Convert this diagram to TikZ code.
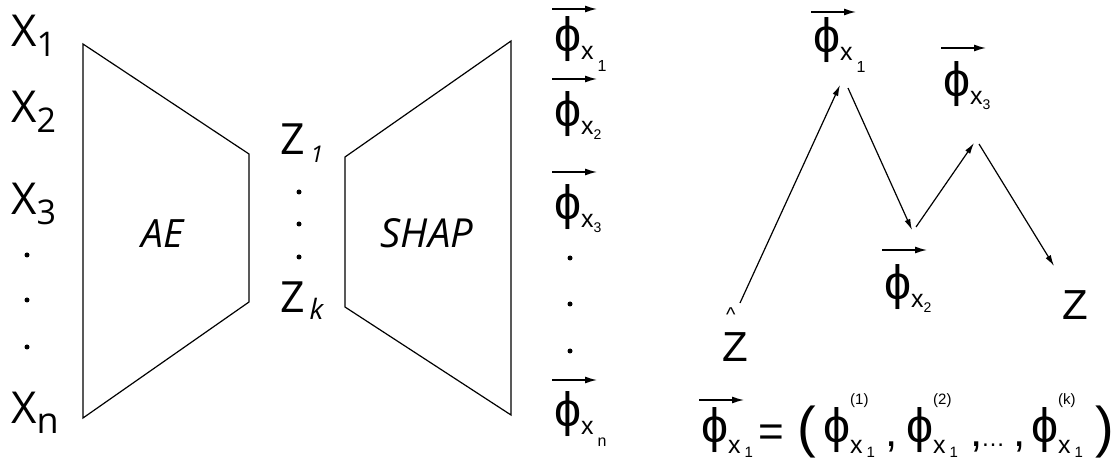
\documentclass[tikz,border=0pt]{standalone}
\usepackage{fontspec}
\usepackage{graphicx}
\setmainfont{Open Sans}
\newfontfamily\arialfont{Liberation Sans}
\usetikzlibrary{arrows.meta,positioning,calc}

\newcommand{\fsz}[1]{\fontsize{#1}{#1}\selectfont}
\newcommand{\xlab}[1]{X\raisebox{-10pt}{\fsz{34}#1}}
% phi glyph, 45pt tall, 7pt below the baseline
\newcommand{\phisym}{\raisebox{-7pt}{\resizebox*{!}{45pt}{\arialfont\fsz{48}\raisebox{\depth}{ϕ}}}}
% phi with x and a dropped index (1, n)
\newcommand{\phixlow}[1]{\phisym{\arialfont\raisebox{-5pt}{\fsz{25}x}\hspace{4pt}\raisebox{-17pt}{\fsz{16}#1}}}
% phi with x and a plain index (2, 3)
\newcommand{\phixsub}[1]{\phisym{\arialfont\raisebox{-5pt}{\fsz{25}x}\raisebox{-10pt}{\fsz{14}#1}}}
% one component, index on top
\newcommand{\phicomp}[1]{\phisym{\arialfont\rlap{\raisebox{42pt}{\fsz{15}(#1)}}\raisebox{-7pt}{\fsz{25}x}\hspace{4pt}\raisebox{-12pt}{\fsz{15}1}}}

\tikzset{
  frame/.style={line width=1.2pt, line join=miter},
  lbl/.style={inner sep=0pt, anchor=base west},
  vecarr/.style={line width=1.4pt, -{Latex[length=12pt,width=7pt]}},
  path/.style={line width=1.2pt, -{Latex[length=11pt,width=6pt]}},
  dot/.style={fill=black}
}

\begin{document}
\begin{tikzpicture}[x=1pt, y=-1pt]
  \useasboundingbox (0,0) rectangle (1117,462);

  % inputs
  \node[lbl, font=\fsz{44}] (x1) at (11,47) {\xlab{1}};
  \node[lbl, font=\fsz{44}] (x2) at (11,123) {\xlab{2}};
  \node[lbl, font=\fsz{44}] (x3) at (11,215) {\xlab{3}};
  \node[lbl, font=\fsz{44}] (xn) at (11,423) {X\raisebox{-10pt}{\fsz{36}n}};
  \foreach \y in {255,300,347} \fill[dot] (27,\y) circle (2.5);

  % encoder
  \draw[frame] (83,44) -- (249,154) -- (249,302) -- (83,418) -- cycle;
  \node[inner sep=0pt, anchor=base, font=\fsz{39}\itshape] (ae) at (163,248) {AE};

  % latent code
  \node[lbl, font=\fsz{43}] (z1) at (280,155) {Z\hspace{6pt}\raisebox{-8pt}{\fsz{23}\itshape 1}};
  \node[lbl, font=\fsz{43}] (zk) at (280,313) {Z\hspace{5pt}\raisebox{-7pt}{\fsz{28}\itshape k}};
  \foreach \y in {192,224,257} \fill[dot] (299,\y) circle (2.5);

  % explainer
  \draw[frame] (511,41) -- (345,157) -- (345,307) -- (511,415) -- cycle;
  \node[inner sep=0pt, anchor=base, font=\fsz{40}\itshape] (shap) at (427,248) {SHAP};

  % attributions
  \node[lbl] (c1) at (554,55) {\phixlow{1}};
  \node[lbl] (c2) at (554,130) {\phixsub{2}};
  \node[lbl] (c3) at (554,223) {\phixsub{3}};
  \node[lbl] (cn) at (554,430) {\phixlow{n}};
  \foreach \y in {258,304,351} \fill[dot] (570,\y) circle (2.5);

  % walk in latent space
  \node[lbl, font=\arialfont\fsz{42}] (zhat) at (722,362) {\makebox[0pt][l]{\hspace{4pt}\raisebox{40pt}{\fsz{20}\textasciicircum}}Z};
  \node[lbl] (p1) at (813,56) {\phixlow{1}};
  \node[lbl] (p2) at (884,303) {\phixsub{2}};
  \node[lbl] (p3) at (943,100) {\phixsub{3}};
  \node[lbl, font=\arialfont\fsz{42}] (z) at (1062,320) {Z};

  \draw[path] ([shift={(18,-59)}]zhat.base west) -- ([shift={(27,29)}]p1.base west);
  \draw[path] ([shift={(35,32)}]p1.base west) -- ([shift={(28,-73)}]p2.base west);
  \draw[path] ([shift={(32,-76)}]p2.base west) -- ([shift={(31,43)}]p3.base west);
  \draw[path] ([shift={(36,44)}]p3.base west) -- ([shift={(-8,-54)}]z.base west);

  % definition
  \node[lbl] (eq) at (701,446) {\makebox[57pt][l]{\phisym{\arialfont\raisebox{-7pt}{\fsz{25}x}\hspace{4pt}\raisebox{-12pt}{\fsz{15}1}}}%
    \makebox[39pt][l]{\arialfont\fsz{44}=}%
    \makebox[26pt][l]{\arialfont\fsz{56}(}%
    \makebox[62pt][l]{\phicomp{1}}%
    \makebox[21pt][l]{\arialfont\fsz{44},}%
    \makebox[64pt][l]{\phicomp{2}}%
    \makebox[11pt][l]{\arialfont\fsz{44},}%
    \makebox[32pt][l]{\arialfont\fsz{24}…}%
    \makebox[18pt][l]{\arialfont\fsz{44},}%
    \makebox[64pt][l]{\phicomp{k}}%
    {\arialfont\fsz{56})}};

  % vector arrows
  \foreach \n/\dy in {c1/46, c2/51, c3/51, cn/50, p1/44, p2/53, p3/52, eq/46}
    \draw[vecarr] ([shift={(-2,-\dy)}]\n.base west) -- ++(45,0);
\end{tikzpicture}
\end{document}
